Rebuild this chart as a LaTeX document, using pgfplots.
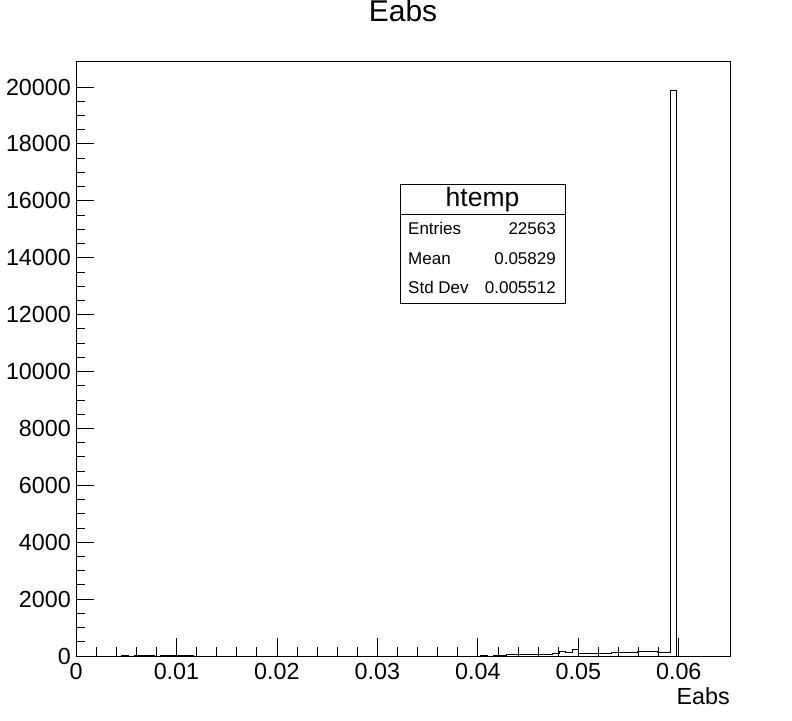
\documentclass[border=0pt]{standalone}
\usepackage{pgfplots}
\pgfplotsset{compat=1.18}
\usepackage{fontspec}
\setmainfont{Liberation Sans}

\begin{document}
\begin{tikzpicture}
\begin{axis}[
  scale only axis, width=654pt, height=595pt,
  xmin=0, xmax=0.0651, ymin=0, ymax=20914,
  scaled ticks=false,
  axis line style={black, line width=0.8pt},
  tick align=inside, xtick pos=bottom, ytick pos=left,
  xtick={0,0.01,0.02,0.03,0.04,0.05,0.06},
  xticklabels={0,0.01,0.02,0.03,0.04,0.05,0.06},
  ytick={0,2000,4000,6000,8000,10000,12000,14000,16000,18000,20000},
  yticklabels={0,2000,4000,6000,8000,10000,12000,14000,16000,18000,20000},
  minor x tick num=4, minor y tick num=3,
  major tick length=18pt, minor tick length=9pt,
  tick style={black, line width=0.8pt},
  ticklabel style={font=\fontsize{23.3}{27}\selectfont},
  xticklabel style={anchor=north, inner sep=0pt, yshift=-7pt},
  yticklabel style={anchor=east, inner sep=0pt, xshift=-5pt},
  title={Eabs},
  title style={at={(rel axis cs:0.5,1)}, anchor=base, inner sep=0pt, yshift=33pt, font=\fontsize{30}{34}\selectfont},
  xlabel={Eabs},
  xlabel style={at={(rel axis cs:1,0)}, anchor=north east, inner sep=0pt, yshift=-31pt, font=\fontsize{23.3}{27}\selectfont},
]
\addplot[const plot, black, line width=1pt, mark=none] coordinates {
(0,0)
(0.00455,20)
(0.00520,0)
(0.00585,30)
(0.00780,0)
(0.00845,30)
(0.01170,0)
(0.04030,25)
(0.04095,0)
(0.04160,35)
(0.04290,40)
(0.04550,45)
(0.04745,75)
(0.04810,175)
(0.04875,130)
(0.04940,235)
(0.05005,100)
(0.05330,110)
(0.05460,130)
(0.05590,160)
(0.05785,125)
(0.05915,19860)
(0.05980,0)
(0.0651,0)
};
\end{axis}
\begin{scope}[shift={(current axis.south west)}]
\begin{scope}[xshift=-76pt, yshift=656pt, x=1pt, y=-1pt]
\path[use as bounding box] (0,0) rectangle (792,720);
\draw[black, line width=0.8pt, fill=white] (400,184) rectangle (565,303);
\draw[black, line width=0.8pt] (400,214) -- (565,214);
\node[anchor=base, inner sep=0pt, font=\fontsize{26.5}{30}\selectfont] at (482.5,207) {htemp};
\begin{scope}[every node/.style={inner sep=0pt, font=\fontsize{17}{20}\selectfont}]
\node[anchor=base west] at (408,235) {Entries};
\node[anchor=base east] at (556,235) {22563};
\node[anchor=base west] at (408,265) {Mean};
\node[anchor=base east] at (556,265) {0.05829};
\node[anchor=base west] at (408,294) {Std Dev};
\node[anchor=base east] at (556,294) {0.005512};
\end{scope}
\end{scope}
\end{scope}
\end{tikzpicture}
\end{document}
